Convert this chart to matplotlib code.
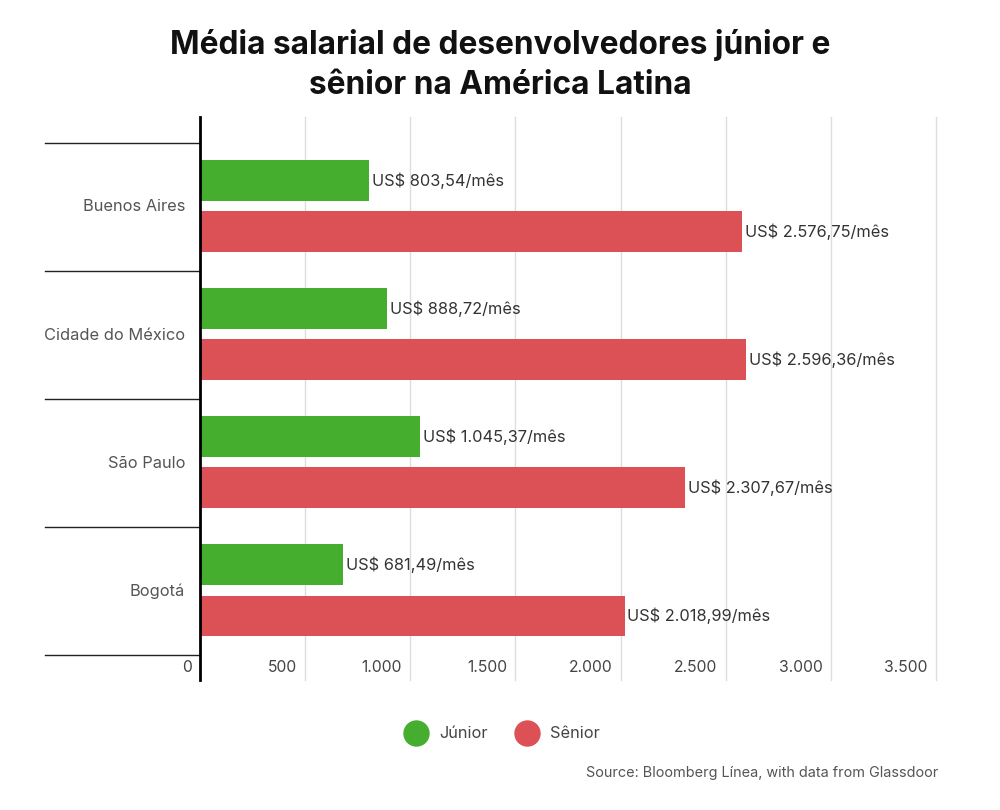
import matplotlib
matplotlib.use("Agg")
import matplotlib.pyplot as plt
import matplotlib.transforms as mtransforms
from matplotlib.lines import Line2D

plt.rcParams['font.family'] = ['Inter', 'DejaVu Sans']

cities = ["Buenos Aires", "Cidade do México", "São Paulo", "Bogotá"]
junior = [803.54, 888.72, 1045.37, 681.49]
senior = [2576.75, 2596.36, 2307.67, 2018.99]
junior_labels = ["US$ 803,54/mês", "US$ 888,72/mês", "US$ 1.045,37/mês", "US$ 681,49/mês"]
senior_labels = ["US$ 2.576,75/mês", "US$ 2.596,36/mês", "US$ 2.307,67/mês", "US$ 2.018,99/mês"]
ticks = [0, 500, 1000, 1500, 2000, 2500, 3000, 3500]
tick_labels = ["0", "500", "1.000", "1.500", "2.000", "2.500", "3.000", "3.500"]

green = "#45ae2f"
red = "#dc5155"

fig = plt.figure(figsize=(10, 8.1), dpi=100)
ax = fig.add_axes([0.2, 1 - 680/810, 0.736, (680-117)/810])

pos = list(range(len(cities)))
ax.barh([p - 0.205 for p in pos], junior, height=0.32, color=green)
ax.barh([p + 0.195 for p in pos], senior, height=0.32, color=red)

for p, v, s in zip(pos, junior, junior_labels):
    ax.annotate(s, xy=(v, p - 0.205), xytext=(2, 0), textcoords='offset points',
                va='center', ha='left', fontsize=11.8, color='#333333')
for p, v, s in zip(pos, senior, senior_labels):
    ax.annotate(s, xy=(v, p + 0.195), xytext=(2, 0), textcoords='offset points',
                va='center', ha='left', fontsize=11.8, color='#333333')

ax.set_xlim(0, 3500)
ax.set_ylim(3.695, -0.703)
ax.set_xticks(ticks)
ax.set_xticklabels([])
ax.set_yticks([])
ax.tick_params(axis='x', length=0)
ax.grid(axis='x', color='#dddddd', linewidth=1)
for gl in ax.get_xgridlines():
    gl.set_clip_on(False)
ax.set_axisbelow(True)
for sp in ['top', 'right', 'bottom']:
    ax.spines[sp].set_visible(False)
ax.spines['left'].set_linewidth(2)
ax.spines['left'].set_color('black')

# x tick labels sit inside the plot, just left of each gridline
blend = mtransforms.blended_transform_factory(ax.transData, ax.transAxes)
for v, s in zip(ticks, tick_labels):
    ax.annotate(s, xy=(v, 12/563), xycoords=blend, xytext=(-6, 0), textcoords='offset points',
                ha='right', va='center', fontsize=11.3, color='#444444')

# category separators and labels on the left
blend_y = mtransforms.blended_transform_factory(ax.transAxes, ax.transData)
for b in [-0.5, 0.5, 1.5, 2.5, 3.5]:
    ax.add_line(Line2D([-155/736, 0], [b, b], transform=blend_y, color='#222222',
                       linewidth=1, clip_on=False))
for p, c in zip(pos, cities):
    ax.text(-15/736, p, c, transform=blend_y, ha='right', va='center',
            fontsize=11.8, color='#555555')

fig.text(0.5, 1 - 45/810, "Média salarial de desenvolvedores júnior e", ha='center', va='center',
         fontsize=22.8, fontweight='bold', color='#111111')
fig.text(0.5, 1 - 85/810, "sênior na América Latina", ha='center', va='center',
         fontsize=22.8, fontweight='bold', color='#111111')

handles = [Line2D([], [], marker='o', linestyle='', markersize=18, color=green),
           Line2D([], [], marker='o', linestyle='', markersize=18, color=red)]
fig.legend(handles, ["Júnior", "Sênior"], loc='center', bbox_to_anchor=(0.5, 1 - 734/810),
           ncol=2, frameon=False, fontsize=11.8, handletextpad=0.4, columnspacing=1.4,
           labelcolor='#444444')

fig.text(0.938, 1 - 773/810, "Source: Bloomberg Línea, with data from Glassdoor", ha='right',
         va='center', fontsize=10.4, color='#555555')

fig.savefig("out.png", dpi=100)
